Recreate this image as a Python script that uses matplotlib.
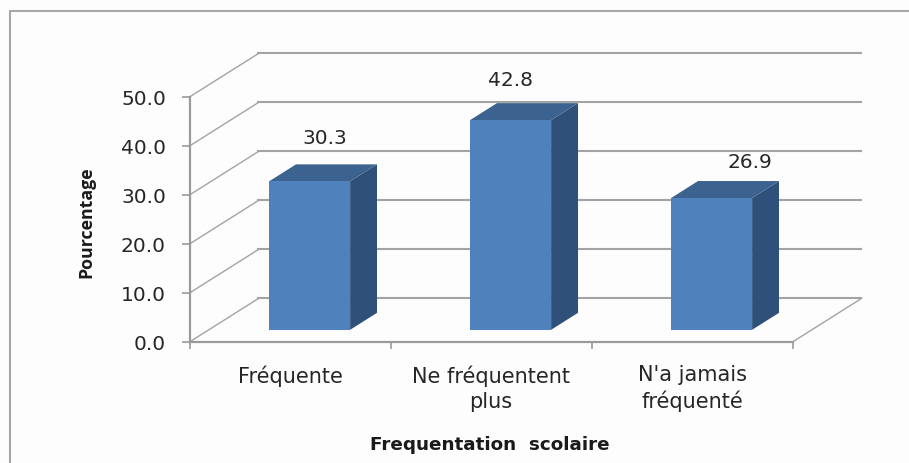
import matplotlib
matplotlib.use('Agg')
import matplotlib.pyplot as plt
from matplotlib.patches import Polygon, Rectangle

# Chart data
categories = ["Fréquente", "Ne fréquentent\nplus", "N'a jamais\nfréquenté"]
values = [30.3, 42.8, 26.9]
y_ticks = [0, 10, 20, 30, 40, 50]

# Fake 3D: how far the back wall sits from the front plane, in axis units
depth_x = 0.343
depth_y = 8.88
bar_left = 0.30
bar_width = 0.403
bar_front = 0.28
bar_back = 0.67

grid_color = '#a3a3a3'
axis_color = '#9a9a9a'
text_color = '#262626'

def project(x, y, depth):
    return (x + depth * depth_x, y + depth * depth_y)

fig = plt.figure(figsize=(9.09, 4.64), dpi=100, facecolor='#fdfdfd')
W, H = 909, 464

# Outer chart frame, runs off the right and bottom of the image
fig.add_artist(Rectangle((9.5 / W, -0.1), 1.1, 1 - 11.5 / H + 0.1, transform=fig.transFigure,
                         fill=False, edgecolor='#a8a8a8', linewidth=1.5))

ax = fig.add_axes([189.5 / W, 1 - 343 / H, 603 / W, 245 / H])
ax.set_xlim(0, 3)
ax.set_ylim(0, 50)
ax.patch.set_visible(False)

# Walls and gridlines
for v in y_ticks:
    pts = [project(0, v, 0), project(0, v, 1), project(3, v, 1)]
    ax.plot([pts[0][0], pts[1][0]], [pts[0][1], pts[1][1]], color=grid_color, lw=1.0, clip_on=False, zorder=1)
    ax.plot([pts[1][0], pts[2][0]], [pts[1][1], pts[2][1]], color=grid_color, lw=1.5, clip_on=False, zorder=1)
floor = [project(3, 0, 0), project(3, 0, 1)]
ax.plot([floor[0][0], floor[1][0]], [floor[0][1], floor[1][1]], color=grid_color, lw=1.0, clip_on=False, zorder=1)

# Bars
label_offsets = [(11, 31.5), (0, 29), (27.5, 26)]
for i, val in enumerate(values):
    x0 = i + bar_left
    x1 = x0 + bar_width
    front = [project(x0, 0, bar_front), project(x1, 0, bar_front),
             project(x1, val, bar_front), project(x0, val, bar_front)]
    side = [project(x1, 0, bar_front), project(x1, 0, bar_back),
            project(x1, val, bar_back), project(x1, val, bar_front)]
    top = [project(x0, val, bar_front), project(x1, val, bar_front),
           project(x1, val, bar_back), project(x0, val, bar_back)]
    ax.add_patch(Polygon(side, closed=True, facecolor='#2f5179', edgecolor='none', clip_on=False, zorder=3))
    ax.add_patch(Polygon(top, closed=True, facecolor='#3c628f', edgecolor='none', clip_on=False, zorder=3))
    ax.add_patch(Polygon(front, closed=True, facecolor='#4f81bd', edgecolor='none', clip_on=False, zorder=4))
    ax.annotate(f'{val:.1f}', xy=project(x0 + bar_width / 2, val, bar_front), xytext=label_offsets[i],
                textcoords='offset points', ha='center', va='center', fontsize=14.5,
                color=text_color, annotation_clip=False, zorder=5)

# Axes
for side in ['top', 'right']:
    ax.spines[side].set_visible(False)
for side in ['left', 'bottom']:
    ax.spines[side].set_color(axis_color)
    ax.spines[side].set_linewidth(1.6)
    ax.spines[side].set_zorder(2)

ax.set_yticks(y_ticks)
ax.set_yticklabels([f'{v:.1f}' for v in y_ticks])
ax.tick_params(axis='y', length=6, width=1.2, color=axis_color, pad=11, labelsize=14.5, labelcolor=text_color)

ax.set_xticks([0, 1, 2, 3])
ax.set_xticklabels([])
ax.tick_params(axis='x', which='major', length=5, width=1.2, color=axis_color)
ax.set_xticks([0.5, 1.5, 2.5], minor=True)
ax.set_xticklabels(categories, minor=True, fontsize=15, color=text_color, linespacing=1.33)
ax.tick_params(axis='x', which='minor', length=0, pad=16)

fig.text(86 / W, 1 - 222 / H, 'Pourcentage', rotation=90, ha='center', va='center',
         fontsize=12.8, family='Open Sans', fontweight='bold', color='#1a1a1a')
fig.text(490 / W, 1 - 445 / H, 'Frequentation  scolaire', ha='center', va='center',
         fontsize=13.2, fontweight='bold', color='#1a1a1a')

fig.savefig('out.png', dpi=100, facecolor=fig.get_facecolor())
